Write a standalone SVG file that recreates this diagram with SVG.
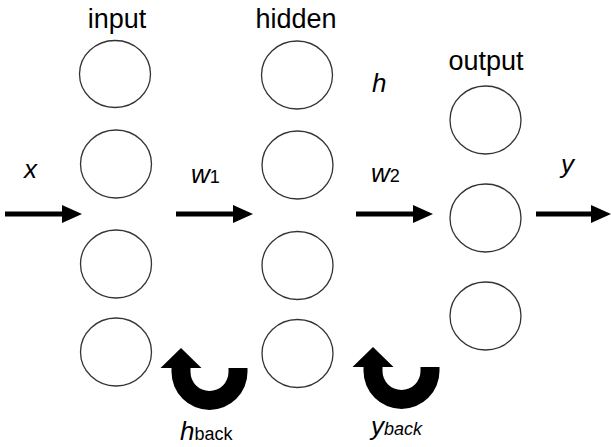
<svg xmlns="http://www.w3.org/2000/svg" width="611" height="447" viewBox="0 0 611 447">
<defs>
<style>
.n{fill:#fff;stroke:#333;stroke-width:1.3}
.t{font-family:"Liberation Sans",Arial,sans-serif;fill:#000}
.h{font-size:27px}
.i{font-style:italic;font-size:26px}
.s{font-size:18px;font-style:normal}
.a{fill:#000}
</style>
<path id="curl" d="M19,-4 L38,-4 L38,0 A38 38 0 0 1 -38 0 L-38,-4 L-49,-4 L-28.5,-24 L-8,-4 L-19,-4 L-19,0 A19 19 0 0 0 19 0 Z"/>
</defs>
<rect width="611" height="447" fill="#fff"/>
<g id="input">
<text class="t h" x="117" y="28" text-anchor="middle">input</text>
<ellipse id="in1" class="n" cx="115" cy="74" rx="35.5" ry="33.5"/>
<ellipse id="in2" class="n" cx="116" cy="164" rx="35.5" ry="34"/>
<ellipse id="in3" class="n" cx="116" cy="264" rx="35.5" ry="34"/>
<ellipse id="in4" class="n" cx="116" cy="352" rx="35.5" ry="34"/>
</g>
<g id="hidden">
<text class="t h" x="296" y="28" text-anchor="middle">hidden</text>
<ellipse id="hd1" class="n" cx="297" cy="75" rx="35.5" ry="34"/>
<ellipse id="hd2" class="n" cx="297.5" cy="165" rx="35.5" ry="34"/>
<ellipse id="hd3" class="n" cx="297.5" cy="265.5" rx="35.5" ry="34"/>
<ellipse id="hd4" class="n" cx="297.5" cy="353.5" rx="35.5" ry="34"/>
</g>
<g id="output">
<text class="t h" x="486" y="70" text-anchor="middle">output</text>
<ellipse id="out1" class="n" cx="485.5" cy="120" rx="35.5" ry="34"/>
<ellipse id="out2" class="n" cx="485.5" cy="218" rx="35.5" ry="34"/>
<ellipse id="out3" class="n" cx="485.5" cy="316" rx="35.5" ry="34"/>
</g>
<g id="connectors">
<path class="a" d="M5,211.5 H62 V205 L82,214 L62,223 V216.5 H5 Z"/>
<path class="a" d="M176,211.5 H233 V205 L253,214 L233,223 V216.5 H176 Z"/>
<path class="a" d="M356,211.5 H413 V205 L433,214 L413,223 V216.5 H356 Z"/>
<path class="a" d="M536,211.5 H591 V205 L611,214 L591,223 V216.5 H536 Z"/>
<use href="#curl" class="a" transform="translate(209.5,372)"/>
<use href="#curl" class="a" transform="translate(401.5,371)"/>
</g>
<g id="labels">
<text class="t i" x="24" y="178">x</text>
<text class="t" x="191" y="183"><tspan class="i">w</tspan><tspan class="s">1</tspan></text>
<text class="t" x="371" y="182"><tspan class="i">w</tspan><tspan class="s">2</tspan></text>
<text class="t i" x="372" y="92">h</text>
<text class="t i" x="561" y="173">y</text>
<text class="t" x="180" y="440"><tspan class="i">h</tspan><tspan class="s">back</tspan></text>
<text class="t" x="371" y="435"><tspan class="i">y</tspan><tspan class="s" style="font-style:italic">back</tspan></text>
</g>
</svg>
